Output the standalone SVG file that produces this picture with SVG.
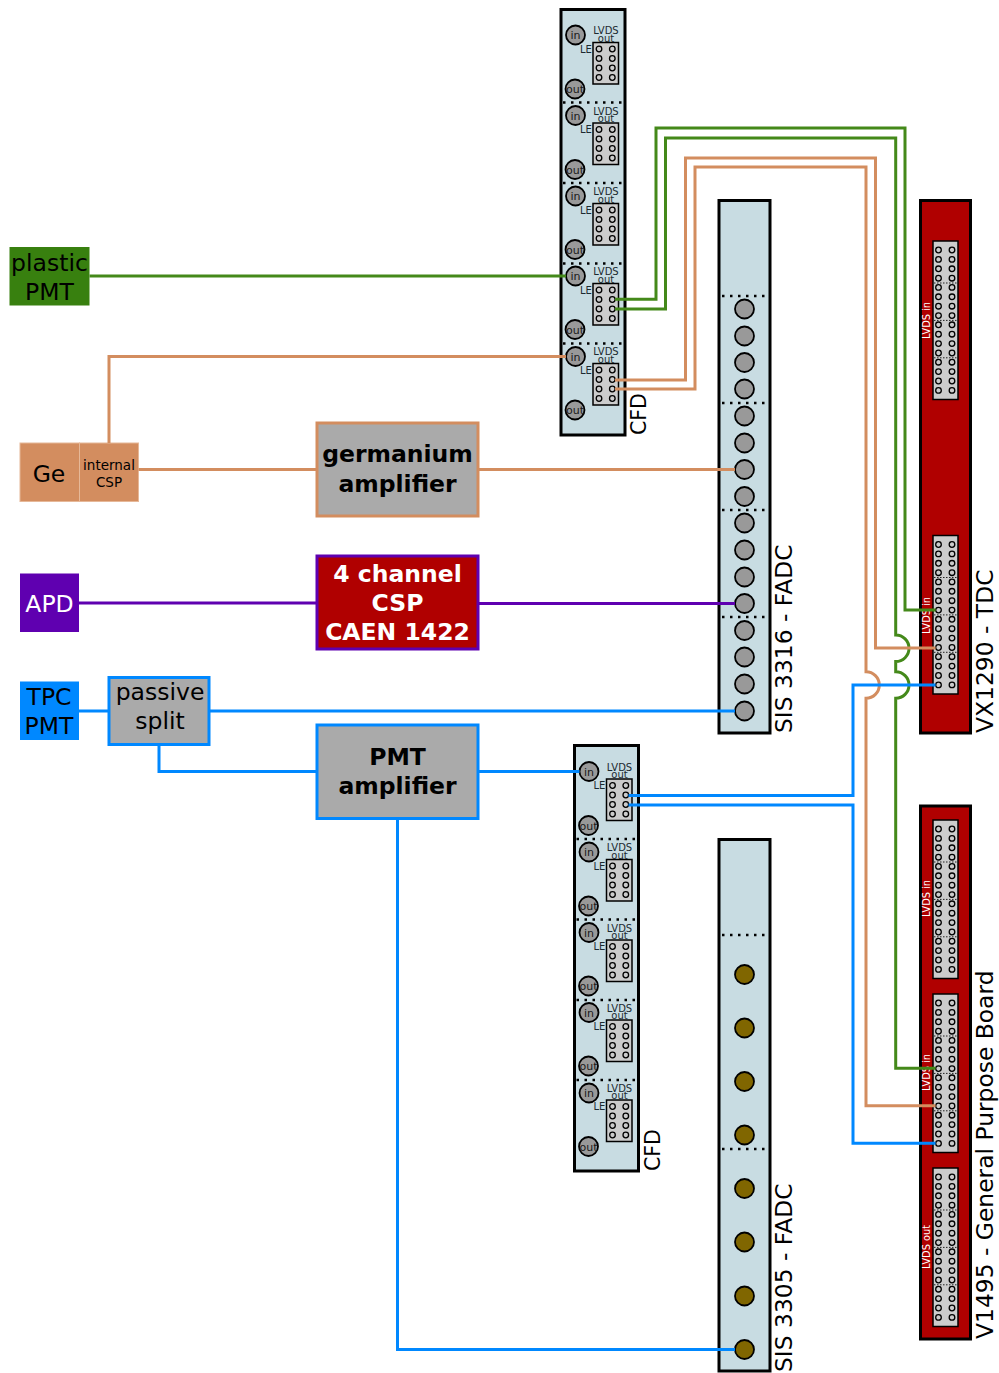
<svg xmlns="http://www.w3.org/2000/svg" width="999" height="1373" viewBox="0 0 999 1373">
<style>
text{font-family:"DejaVu Sans",sans-serif;text-anchor:middle}
.board{fill:#c8dce2;stroke:#000;stroke-width:3}
.red{fill:#b00000;stroke:#000;stroke-width:3}
.dot{fill:none;stroke:#000;stroke-width:2.5;stroke-dasharray:2.5 5.5}
.dot2{fill:none;stroke:#222;stroke-width:1;stroke-dasharray:1.5 1.5}
.c{fill:#999;stroke:#000;stroke-width:1.8}
.b{fill:#806600;stroke:#000;stroke-width:1.8}
.conn{fill:#ccc;stroke:#000;stroke-width:1.5}
.h{fill:none;stroke:#000;stroke-width:1.3}
.s{font-size:10px;fill:#1c2a30}
.io{font-size:11px;fill:#1a1a1a}
.w{font-size:9.800px;fill:#fff}
.lab{font-size:23.400px;fill:#000}
.big{font-size:23.500px}
.bold{font-weight:bold;font-size:23.500px}
.l{fill:none;stroke-width:3}
.g{stroke:#44891a}.o{stroke:#d38d5f}.bl{stroke:#0088ff}.p{stroke:#5f00b0}
</style>
<defs>
<g id="c8"><rect class="conn" x="0" y="0" width="25.500" height="41.500"/>
<circle class="h" cx="6" cy="6.500" r="2.800"/><circle class="h" cx="19.300" cy="6.500" r="2.800"/><circle class="h" cx="6" cy="16" r="2.800"/><circle class="h" cx="19.300" cy="16" r="2.800"/><circle class="h" cx="6" cy="25.500" r="2.800"/><circle class="h" cx="19.300" cy="25.500" r="2.800"/><circle class="h" cx="6" cy="35" r="2.800"/><circle class="h" cx="19.300" cy="35" r="2.800"/></g>
<g id="r4"><circle class="h" cx="5.500" cy="9" r="2.800"/><circle class="h" cx="19" cy="9" r="2.800"/><circle class="h" cx="5.500" cy="18.400" r="2.800"/><circle class="h" cx="19" cy="18.400" r="2.800"/><circle class="h" cx="5.500" cy="27.800" r="2.800"/><circle class="h" cx="19" cy="27.800" r="2.800"/><circle class="h" cx="5.500" cy="37.200" r="2.800"/><circle class="h" cx="19" cy="37.200" r="2.800"/></g>
<g id="c16"><rect class="conn" x="0" y="0" width="25" height="158.500"/>
<use href="#r4"/><use href="#r4" y="37.400"/><use href="#r4" y="74.800"/><use href="#r4" y="112.200"/>
<path class="dot2" d="M1 42H24M1 79.400H24M1 116.800H24"/></g>
</defs>

<g id="cfd1">
<rect class="board" x="561" y="9.500" width="64" height="425.500"/>
<path class="dot" d="M563 102.500H623M563 183H623M563 263.500H623M563 343.500H623"/>
<circle class="c" cx="575.500" cy="35" r="9.500"/><text class="io" x="575.500" y="39">in</text><circle class="c" cx="575" cy="89" r="9.500"/><text class="io" x="575" y="93">out</text><text class="s" x="606" y="34">LVDS</text><text class="s" x="606" y="41.500">out</text><text class="s" x="586" y="52.500">LE</text><use href="#c8" x="593" y="42.500"/>
<circle class="c" cx="575.500" cy="115.500" r="9.500"/><text class="io" x="575.500" y="119.500">in</text><circle class="c" cx="575" cy="169.500" r="9.500"/><text class="io" x="575" y="173.500">out</text><text class="s" x="606" y="114.500">LVDS</text><text class="s" x="606" y="122">out</text><text class="s" x="586" y="133">LE</text><use href="#c8" x="593" y="123"/>
<circle class="c" cx="575.500" cy="196" r="9.500"/><text class="io" x="575.500" y="200">in</text><circle class="c" cx="575" cy="249.500" r="9.500"/><text class="io" x="575" y="253.500">out</text><text class="s" x="606" y="195">LVDS</text><text class="s" x="606" y="202.500">out</text><text class="s" x="586" y="213.500">LE</text><use href="#c8" x="593" y="203.500"/>
<circle class="c" cx="575.500" cy="276" r="9.500"/><text class="io" x="575.500" y="280">in</text><circle class="c" cx="575" cy="329.500" r="9.500"/><text class="io" x="575" y="333.500">out</text><text class="s" x="606" y="275">LVDS</text><text class="s" x="606" y="282.500">out</text><text class="s" x="586" y="293.500">LE</text><use href="#c8" x="593" y="283.500"/>
<circle class="c" cx="575.500" cy="356.500" r="9.500"/><text class="io" x="575.500" y="360.500">in</text><circle class="c" cx="575" cy="410" r="9.500"/><text class="io" x="575" y="414">out</text><text class="s" x="606" y="355">LVDS</text><text class="s" x="606" y="362.500">out</text><text class="s" x="586" y="373.500">LE</text><use href="#c8" x="593" y="363.500"/>
<text class="lab" transform="translate(646,435) rotate(-90)" style="text-anchor:start;font-size:20.500px">CFD</text>
</g>

<g id="cfd2">
<rect class="board" x="574.500" y="745.500" width="64" height="425.500"/>
<path class="dot" d="M576.500 839H636.500M576.500 919.500H636.500M576.500 1000H636.500M576.500 1080H636.500"/>
<circle class="c" cx="589" cy="771.500" r="9.500"/><text class="io" x="589" y="775.500">in</text><circle class="c" cx="588.500" cy="825.500" r="9.500"/><text class="io" x="588.500" y="829.500">out</text><text class="s" x="619.500" y="770.500">LVDS</text><text class="s" x="619.500" y="778">out</text><text class="s" x="599.500" y="789">LE</text><use href="#c8" x="606.500" y="779"/>
<circle class="c" cx="589" cy="852" r="9.500"/><text class="io" x="589" y="856">in</text><circle class="c" cx="588.500" cy="906" r="9.500"/><text class="io" x="588.500" y="910">out</text><text class="s" x="619.500" y="851">LVDS</text><text class="s" x="619.500" y="858.500">out</text><text class="s" x="599.500" y="869.500">LE</text><use href="#c8" x="606.500" y="859.500"/>
<circle class="c" cx="589" cy="932.500" r="9.500"/><text class="io" x="589" y="936.500">in</text><circle class="c" cx="588.500" cy="986" r="9.500"/><text class="io" x="588.500" y="990">out</text><text class="s" x="619.500" y="931.500">LVDS</text><text class="s" x="619.500" y="939">out</text><text class="s" x="599.500" y="950">LE</text><use href="#c8" x="606.500" y="940"/>
<circle class="c" cx="589" cy="1012.500" r="9.500"/><text class="io" x="589" y="1016.500">in</text><circle class="c" cx="588.500" cy="1066" r="9.500"/><text class="io" x="588.500" y="1070">out</text><text class="s" x="619.500" y="1011.500">LVDS</text><text class="s" x="619.500" y="1019">out</text><text class="s" x="599.500" y="1030">LE</text><use href="#c8" x="606.500" y="1020"/>
<circle class="c" cx="589" cy="1093" r="9.500"/><text class="io" x="589" y="1097">in</text><circle class="c" cx="588.500" cy="1146.500" r="9.500"/><text class="io" x="588.500" y="1150.500">out</text><text class="s" x="619.500" y="1091.500">LVDS</text><text class="s" x="619.500" y="1099">out</text><text class="s" x="599.500" y="1110">LE</text><use href="#c8" x="606.500" y="1100"/>
<text class="lab" transform="translate(659.500,1171) rotate(-90)" style="text-anchor:start;font-size:20.500px">CFD</text>
</g>

<g id="fadc3316">
<rect class="board" x="719" y="200.500" width="51" height="532.500"/>
<path class="dot" d="M722 296H768M722 403H768M722 510H768M722 617H768"/>
<circle class="c" cx="744.500" cy="309" r="9.500"/><circle class="c" cx="744.500" cy="336" r="9.500"/><circle class="c" cx="744.500" cy="362.500" r="9.500"/><circle class="c" cx="744.500" cy="389" r="9.500"/><circle class="c" cx="744.500" cy="416" r="9.500"/><circle class="c" cx="744.500" cy="443" r="9.500"/><circle class="c" cx="744.500" cy="469.500" r="9.500"/><circle class="c" cx="744.500" cy="496.500" r="9.500"/><circle class="c" cx="744.500" cy="523" r="9.500"/><circle class="c" cx="744.500" cy="550" r="9.500"/><circle class="c" cx="744.500" cy="577" r="9.500"/><circle class="c" cx="744.500" cy="603.500" r="9.500"/><circle class="c" cx="744.500" cy="630.500" r="9.500"/><circle class="c" cx="744.500" cy="657" r="9.500"/><circle class="c" cx="744.500" cy="684" r="9.500"/><circle class="c" cx="744.500" cy="711" r="9.500"/>
<text class="lab" transform="translate(792,733) rotate(-90)" style="text-anchor:start">SIS 3316 - FADC</text>
</g>

<g id="fadc3305">
<rect class="board" x="719" y="839.500" width="51" height="531.500"/>
<path class="dot" d="M722 935H768M722 1149H768"/>
<circle class="b" cx="744.500" cy="974.500" r="9.500"/><circle class="b" cx="744.500" cy="1028" r="9.500"/><circle class="b" cx="744.500" cy="1081.500" r="9.500"/><circle class="b" cx="744.500" cy="1135" r="9.500"/><circle class="b" cx="744.500" cy="1188.500" r="9.500"/><circle class="b" cx="744.500" cy="1242" r="9.500"/><circle class="b" cx="744.500" cy="1296" r="9.500"/><circle class="b" cx="744.500" cy="1349.500" r="9.500"/>
<text class="lab" transform="translate(792,1372) rotate(-90)" style="text-anchor:start">SIS 3305 - FADC</text>
</g>

<g id="tdc">
<rect class="red" x="920.500" y="200.500" width="50" height="532.500"/>
<use href="#c16" x="933" y="241"/><use href="#c16" x="933" y="535.500"/>
<text class="w" transform="translate(929.500,320.500) rotate(-90)">LVDS in</text>
<text class="w" transform="translate(929.500,615.500) rotate(-90)">LVDS in</text>
<text class="lab" transform="translate(993,733) rotate(-90)" style="text-anchor:start">VX1290 - TDC</text>
</g>

<g id="v1495">
<rect class="red" x="920.500" y="806" width="50" height="533"/>
<use href="#c16" x="933" y="820"/><use href="#c16" x="933" y="994"/><use href="#c16" x="933" y="1168"/>
<text class="w" transform="translate(929.500,898.500) rotate(-90)">LVDS in</text>
<text class="w" transform="translate(929.500,1072.500) rotate(-90)">LVDS in</text>
<text class="w" transform="translate(929.500,1247) rotate(-90)">LVDS out</text>
<text class="lab" transform="translate(993,1339) rotate(-90)" style="text-anchor:start">V1495 - General Purpose Board</text>
</g>

<g id="plastic-pmt"><rect x="9.500" y="247" width="80" height="58.500" fill="#38800f"/><text class="big" x="49.500" y="271">plastic</text><text class="big" x="49.500" y="300">PMT</text></g>
<g id="ge"><rect x="20" y="443" width="59.500" height="58.500" fill="#d38d5f" stroke="#e6b898" stroke-width="1"/><text class="big" x="49" y="482">Ge</text></g>
<g id="internal-csp"><rect x="79.500" y="443" width="59" height="58.500" fill="#d38d5f" stroke="#e6b898" stroke-width="1"/><text x="109" y="470" style="font-size:13.500px">internal</text><text x="109" y="487" style="font-size:13.500px">CSP</text></g>
<g id="germanium-amplifier"><rect x="317" y="423" width="161" height="93" fill="#aaa" stroke="#d38d5f" stroke-width="3"/><text class="bold" x="397.500" y="462">germanium</text><text class="bold" x="397.500" y="492">amplifier</text></g>
<g id="csp-1422"><rect x="317" y="556" width="161" height="93" fill="#b00000" stroke="#5f00b0" stroke-width="3"/><text class="bold" x="397.500" y="582" fill="#fff">4 channel</text><text class="bold" x="397.500" y="611" fill="#fff">CSP</text><text class="bold" x="397.500" y="640" fill="#fff">CAEN 1422</text></g>
<g id="apd"><rect x="20" y="573.500" width="59" height="58.500" fill="#5f00b0"/><text class="big" x="49.500" y="612" fill="#fff">APD</text></g>
<g id="tpc-pmt"><rect x="20" y="681.500" width="59" height="58.500" fill="#0088ff"/><text class="big" x="49" y="705">TPC</text><text class="big" x="49" y="734">PMT</text></g>
<g id="passive-split"><rect x="109" y="677.500" width="100" height="67" fill="#aaa" stroke="#0088ff" stroke-width="3"/><text class="big" x="160" y="700">passive</text><text class="big" x="160" y="729">split</text></g>
<g id="pmt-amplifier"><rect x="317" y="725" width="161" height="93.500" fill="#aaa" stroke="#0088ff" stroke-width="3"/><text class="bold" x="397.500" y="765">PMT</text><text class="bold" x="397.500" y="794">amplifier</text></g>

<g id="connectors">
<path class="l g" d="M89.500 276H566"/>
<path class="l g" d="M615 299.300H656V128H905V610H935.500"/>
<path class="l g" d="M615 309H665.500V138H895.700V635A13.300 13.300 0 0 1 895.700 661.600V671.700A13.300 13.300 0 0 1 895.700 698.300V1068.300H935.500"/>
<path class="l o" d="M109 443V356.500H566"/>
<path class="l o" d="M138.500 469.500H317M478 469.500H735"/>
<path class="l o" d="M615 380H685.500V158H875.500V648H935.500"/>
<path class="l o" d="M615 389H695V167H866V671.700A13.300 13.300 0 0 1 866 698.300V1105.700H935.500"/>
<path class="l p" d="M79 603H317M478 603.500H735"/>
<path class="l bl" d="M79 711H109M209 711H735"/>
<path class="l bl" d="M159 744.500V771.500H317M478 771.500H579.500"/>
<path class="l bl" d="M397.500 818.500V1349.500H735"/>
<path class="l bl" d="M628.500 795.500H853V685H935.500"/>
<path class="l bl" d="M628.500 805H853V1143.300H935.500"/>
</g>
</svg>
